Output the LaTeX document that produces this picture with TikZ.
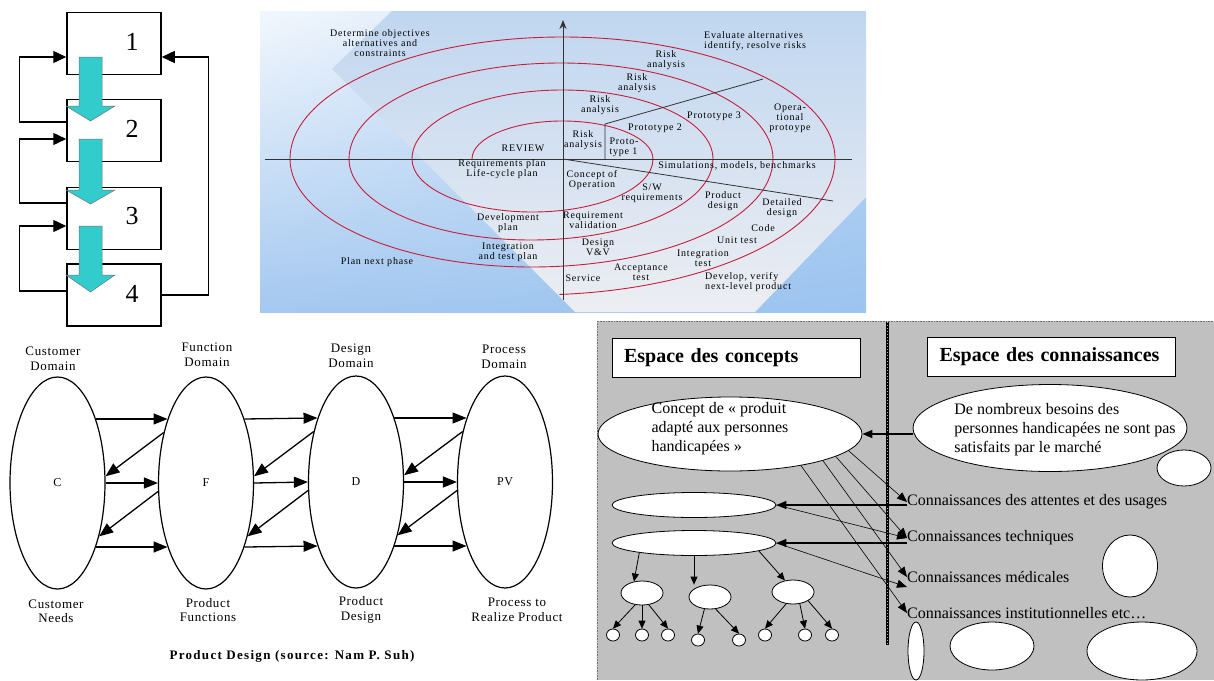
\documentclass[tikz,border=0pt]{standalone}
\usepackage{fontspec}
\setmainfont{Liberation Serif}
\newfontfamily\spfont{Liberation Serif}[LetterSpace=8]
\newfontfamily\domfont{Liberation Serif}[LetterSpace=5]
\newfontfamily\capfont{Liberation Serif}[LetterSpace=10]
\usetikzlibrary{shapes.geometric,arrows.meta,calc,shadings}

\definecolor{flowcyan}{RGB}{51,204,204}
\definecolor{spiralred}{RGB}{200,30,60}
\definecolor{skyA}{RGB}{242,247,253}
\definecolor{skyB}{RGB}{190,216,244}
\definecolor{skyC}{RGB}{164,200,240}
\definecolor{skyD}{RGB}{156,196,240}
\definecolor{paleA}{RGB}{192,214,240}
\definecolor{paleB}{RGB}{236,238,242}
\definecolor{panelgray}{RGB}{192,192,192}

\tikzset{
  stage/.style={draw, line width=1.5pt, minimum width=94pt, minimum height=62pt, inner sep=0pt},
  digit/.style={font=\fontsize{26}{26}\selectfont, inner sep=0pt},
  fb/.style={line width=1.4pt, -{Triangle[length=13pt,width=12pt]}},
  flow/.style={fill=flowcyan, draw=black!55, line width=0.5pt},
  sp/.style={font=\spfont\fontsize{10}{10}\selectfont, align=center, inner sep=0pt},
  ring/.style={spiralred, line width=0.9pt},
  axis/.style={black!80, line width=0.8pt},
  dom/.style={draw, ellipse, line width=1.2pt, minimum width=95pt, minimum height=212pt, inner sep=0pt, font=\domfont\fontsize{12}{12}\selectfont},
  domlbl/.style={font=\domfont\fontsize{13}{14.5}\selectfont, align=center, inner sep=0pt},
  domarr/.style={line width=1.3pt, -{Triangle[length=14pt,width=11pt]}},
  hdr/.style={draw, fill=white, line width=0.8pt, minimum height=39pt, text width=224pt, inner xsep=12pt, align=left, font=\fontsize{20}{20}\selectfont\bfseries},
  bubble/.style={draw, fill=white, ellipse, line width=0.8pt, inner sep=0pt},
  ftxt/.style={font=\fontsize{16}{19}\selectfont, align=left, inner sep=0pt},
  know/.style={font=\fontsize{16}{16}\selectfont, inner sep=0pt, anchor=west},
  karr/.style={line width=1.3pt, -{Triangle[length=10pt,width=8pt]}},
  tarr/.style={line width=0.6pt, -{Triangle[length=10pt,width=8pt]}},
  sarr/.style={line width=0.8pt, -{Triangle[length=8pt,width=7pt]}},
}

\begin{document}
\begin{tikzpicture}[x=1pt, y=-1pt]
\useasboundingbox (0,0) rectangle (1214,680);

% waterfall with feedback
\node[stage] (b1) at (114,43.5) {};
\node[stage] (b2) at (114,130.5) {};
\node[stage] (b3) at (114,218.5) {};
\node[stage] (b4) at (114,295) {};
\node[digit] (n1) at (132,41.5) {1};
\node[digit] (n2) at (132,129) {2};
\node[digit] (n3) at (132,216) {3};
\node[digit] (n4) at (132,294) {4};
\draw[fb] ($(b2.west)+(0,-8.5)$) -- ++(-47,0) |- ($(b1.west)+(0,13.5)$);
\draw[fb] ($(b3.west)+(0,-15.5)$) -- ++(-47,0) |- ($(b2.west)+(0,8.5)$);
\draw[fb] ($(b4.west)+(0,-4)$) -- ++(-47,0) |- ($(b3.west)+(0,7.5)$);
\draw[fb] (b4.east) -- ++(47,0) |- ($(b1.east)+(0,13.5)$);
\foreach \ya/\yb/\yc in {57/106/121,139/190/204,226/275/292}
  \draw[flow] (79,\ya) -- (102,\ya) -- (102,\yb) -- (115,\yb) -- (90.5,\yc) -- (66,\yb) -- (79,\yb) -- cycle;

% spiral model
\shade[upper left=skyA, upper right=skyB, lower left=skyC, lower right=skyD] (260,11) rectangle (866,312);
\shade[top color=paleA, bottom color=paleB] (392,11) -- (332,69) -- (575,312) -- (755,312) -- (866,197) -- (866,11) -- cycle;
\draw[ring] (472,159) arc[start angle=180,end angle=0,x radius=90.5pt,y radius=38pt]
  arc[start angle=0,end angle=-180,x radius=120.5pt,y radius=53pt]
  arc[start angle=180,end angle=0,x radius=150.5pt,y radius=69pt]
  arc[start angle=0,end angle=-180,x radius=182pt,y radius=81pt]
  arc[start angle=180,end angle=0,x radius=212pt,y radius=96pt]
  arc[start angle=0,end angle=-180,x radius=241.5pt,y radius=108pt]
  arc[start angle=180,end angle=0,x radius=272.5pt,y radius=122pt]
  arc[start angle=0,end angle=-85,x radius=302pt,y radius=136pt];
\draw[axis] (265,159) -- (852,159);
\draw[axis, -{Stealth[length=9pt,width=7pt]}] (563,300) -- (563,20);
\draw[axis] (605,159) -- (605,124) -- (763,79);
\draw[axis] (563,159) -- (833,201);
\node[sp] (obj) at (380,43) {Determine objectives\\alternatives and\\constraints};
\node[sp, align=left, anchor=west] (eval) at (704,41) {Evaluate alternatives\\identify, resolve risks};
\node[sp] (risk4) at (666,60) {Risk\\analysis};
\node[sp] (risk3) at (637,83) {Risk\\analysis};
\node[sp] (risk2) at (600,105) {Risk\\analysis};
\node[sp] (risk1) at (583,140) {Risk\\analysis};
\node[sp, align=left] (proto1) at (624,147) {Proto-\\type 1};
\node[sp] (proto2) at (655,128) {Prototype 2};
\node[sp] (proto3) at (714,116) {Prototype 3};
\node[sp] (oper) at (790,118) {Opera-\\tional\\protoype};
\node[sp] (review) at (523,148) {REVIEW};
\node[sp] (reqplan) at (502,169) {Requirements plan\\Life-cycle plan};
\node[sp] (simul) at (737,166) {Simulations, models, benchmarks};
\node[sp] (concept) at (592,180) {Concept of\\Operation};
\node[sp] (swreq) at (652,193) {S/W\\requirements};
\node[sp] (proddes) at (723,201) {Product\\design};
\node[sp] (detdes) at (782,208) {Detailed\\design};
\node[sp] (devplan) at (508,223) {Development\\plan};
\node[sp] (reqval) at (593,220) {Requirement\\validation};
\node[sp] (code) at (763,228) {Code};
\node[sp] (unit) at (737,240) {Unit test};
\node[sp] (desvv) at (598,247) {Design\\V\&V};
\node[sp] (inttplan) at (508,252) {Integration\\and test plan};
\node[sp] (inttest) at (703,258) {Integration\\test};
\node[sp] (accept) at (641,272) {Acceptance\\test};
\node[sp] (service) at (583,278) {Service};
\node[sp, align=left, anchor=west] (develop) at (705,282) {Develop, verify\\next-level product};
\node[sp] (nextphase) at (377,262) {Plan next phase};

% domains
\node[dom] (C) at (57.5,483) {C};
\node[dom] (F) at (206,483) {F};
\node[dom] (D) at (356,482) {D};
\node[dom] (PV) at (505,482) {PV};
\node[domlbl] (Ctop) at (53,359) {Customer\\Domain};
\node[domlbl] (Ftop) at (207,355) {Function\\Domain};
\node[domlbl] (Dtop) at (351,356) {Design\\Domain};
\node[domlbl] (Ptop) at (504,357) {Process\\Domain};
\node[domlbl] (Cbot) at (56,611) {Customer\\Needs};
\node[domlbl] (Fbot) at (208,610) {Product\\Functions};
\node[domlbl] (Dbot) at (361,610) {Product\\Design};
\node[domlbl] (Pbot) at (517,610) {Process to\\Realize Product};
\node[font=\capfont\bfseries\fontsize{13}{13}\selectfont, inner sep=0pt] (cap) at (292,656) {Product Design (source: Nam P. Suh)};
\foreach \a/\b in {C/F,F/D,D/PV}{
  \draw[domarr] (\a.59) -- (\b.121);
  \draw[domarr] (\a.east) -- (\b.west);
  \draw[domarr] (\a.-59) -- (\b.-121);
  \draw[domarr] (\b.130) -- (\a.8);
  \draw[domarr] (\b.190) -- (\a.-52);
}

% concept / knowledge spaces
\fill[panelgray] (597,321) rectangle (1214,680);
\draw[panelgray!60!black, densely dotted, line width=0.6pt] (597,680) -- (597,321) -- (1214,321);
\draw[line width=3pt] (887,322) -- (887,645);
\draw[line width=1pt, gray!60, dash pattern=on 1pt off 2pt] (887,322) -- (887,645);
\node[hdr] (hc) at (736,357.5) {Espace des concepts};
\node[hdr] (hk) at (1051.5,356.5) {Espace des connaissances};
\node[bubble, minimum width=264pt, minimum height=74pt] (cpt) at (730,434) {};
\node[ftxt] (cpttxt) at (720,429) {Concept de « produit\\adapté aux personnes\\handicapées »};
\node[bubble, minimum width=274pt, minimum height=87pt] (need) at (1050,428) {};
\node[ftxt] (needtxt) at (1065,430) {De nombreux besoins des\\personnes handicapées ne sont pas\\satisfaits par le marché};
\node[bubble, minimum width=54pt, minimum height=36pt] (X0) at (1184,468) {};
\node[know] (k1) at (907,502) {Connaissances des attentes et des usages};
\node[know] (k2) at (907,538) {Connaissances techniques};
\node[know] (k3) at (907,577) {Connaissances médicales};
\node[know] (k4) at (907,613) {Connaissances institutionnelles etc…};
\node[bubble, minimum width=55pt, minimum height=62pt] (X1) at (1130,566) {};
\node[bubble, minimum width=16pt, minimum height=58pt] (X2) at (916,651) {};
\node[bubble, minimum width=84pt, minimum height=48pt] (X3) at (992,646) {};
\node[bubble, minimum width=110pt, minimum height=58pt] (X4) at (1142,651) {};
\node[bubble, minimum width=164pt, minimum height=25pt] (E1) at (694,505) {};
\node[bubble, minimum width=164pt, minimum height=25pt] (E2) at (694,543) {};
\node[bubble, minimum width=42pt, minimum height=24pt] (M1) at (642,593) {};
\node[bubble, minimum width=42pt, minimum height=24pt] (M2) at (710,597) {};
\node[bubble, minimum width=42pt, minimum height=24pt] (M3) at (793,592) {};
\foreach \n/\x/\y in {1/613/635,2/642/635,3/668/635,4/698/640,5/739/640,6/765/635,7/805/635,8/832/635}
  \node[bubble, minimum width=13pt, minimum height=12pt] (L\n) at (\x,\y) {};
\draw[karr] (need.west |- cpt.east) -- (cpt.east);
\draw[karr] (k1.west |- E1.east) -- (E1.east);
\draw[karr] (k2.west |- E2.east) -- (E2.east);
\draw[tarr] (cpt.-8) -- (k1.west);
\draw[tarr] (cpt.-12) -- (k2.west);
\draw[tarr] (cpt.-16) -- (k3.west);
\draw[tarr] (cpt.-24) -- (k4.west);
\draw[tarr] (E1.east) -- (k2.west);
\draw[tarr] (E2.east) -- ($(k3.west)+(0,10)$);
\draw[sarr] (E2.-170) -- (M1.125);
\draw[sarr] (E2.south) -- (E2.south |- M2.north);
\draw[sarr] (E2.-7) -- (M3.125);
\draw[sarr] (M1.-120) -- (L1.north);
\draw[sarr] (M1.south) -- (L2.north);
\draw[sarr] (M1.-60) -- (L3.north);
\draw[sarr] (M2.-115) -- (L4.north);
\draw[sarr] (M2.-65) -- (L5.north);
\draw[sarr] (M3.-120) -- (L6.north);
\draw[sarr] (M3.-60) -- (L7.north);
\draw[sarr] (M3.-30) -- (L8.north);
\end{tikzpicture}
\end{document}
